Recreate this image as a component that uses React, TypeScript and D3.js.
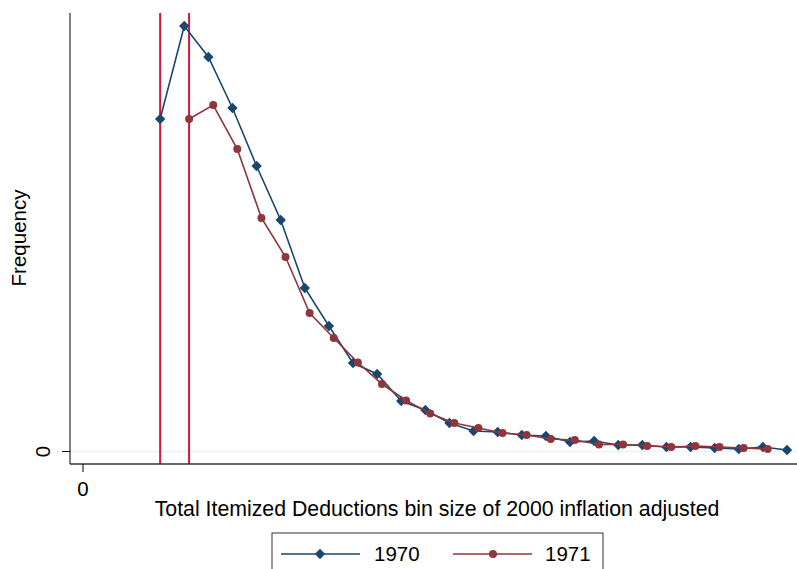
import React from "react";
import * as d3 from "d3";

const BIN = 2000;
const start1970 = 6400;
const start1971 = 8800;
const freq1970 = [3325, 4255, 3945, 3435, 2855, 2315, 1635, 1255, 885, 775, 505, 415, 285, 205, 195, 165, 155, 95, 105, 65, 65, 45, 45, 35, 25, 45, 15];
const freq1971 = [3325, 3465, 3025, 2335, 1945, 1385, 1135, 890, 675, 510, 380, 285, 235, 185, 165, 125, 115, 70, 70, 55, 45, 55, 45, 35, 25];
const thresholds = [6400, 8800];
const seriesNames = ["1970", "1971"];
const xTicks = [0];
const yTicks = [0];

const W = 797;
const H = 569;
const FONT = "Liberation Sans, Arial, Helvetica, sans-serif";
const FS = 20.5;
const FSX = 21.3;
const BLUE = "#1a476f";
const RED = "#90353b";
const VLINE = "#d0173f";

export default function App() {
  const plotL = 70, plotR = 797, plotT = 13, plotB = 464;
  const x = d3.scaleLinear().domain([0, 58400]).range([83, 787]);
  const y = d3.scaleLinear().domain([0, 4255]).range([451.5, 26]);

  const d70 = freq1970.map((v, i) => ({ x: start1970 + i * BIN, y: v }));
  const d71 = freq1971.map((v, i) => ({ x: start1971 + i * BIN, y: v }));
  const line = d3.line<{ x: number; y: number }>().x(d => x(d.x)).y(d => y(d.y));

  const diamond = (cx: number, cy: number, r: number) =>
    `M${cx},${cy - r}L${cx + r},${cy}L${cx},${cy + r}L${cx - r},${cy}Z`;

  return (
    <svg width={W} height={H} style={{ position: "absolute", left: 0, top: 0, background: "#fff" }}>
      <rect x={0} y={0} width={W} height={H} fill="#fff" />
      {yTicks.map(t => (
        <line key={"g" + t} x1={plotL} x2={plotR} y1={y(t)} y2={y(t)} stroke="#eaf2f3" strokeWidth={1.5} />
      ))}
      {thresholds.map(t => (
        <line key={"v" + t} x1={x(t)} x2={x(t)} y1={plotT} y2={plotB} stroke={VLINE} strokeWidth={2} />
      ))}
      <path d={line(d70) || ""} fill="none" stroke={BLUE} strokeWidth={1.6} />
      {d70.map((d, i) => (
        <path key={"a" + i} d={diamond(x(d.x), y(d.y), 5.2)} fill={BLUE} />
      ))}
      <path d={line(d71) || ""} fill="none" stroke={RED} strokeWidth={1.6} />
      {d71.map((d, i) => (
        <circle key={"b" + i} cx={x(d.x)} cy={y(d.y)} r={4} fill={RED} />
      ))}
      <line x1={plotL} x2={plotL} y1={plotT} y2={plotB} stroke="#000" strokeWidth={1} />
      <line x1={plotL} x2={plotR} y1={plotB} y2={plotB} stroke="#333" strokeWidth={1.5} />
      {yTicks.map(t => (
        <g key={"yt" + t}>
          <line x1={plotL - 8} x2={plotL} y1={y(t)} y2={y(t)} stroke="#000" />
          <text transform={`translate(50,${y(t)}) rotate(-90)`} textAnchor="middle" fontFamily={FONT} fontSize={FS}>{t}</text>
        </g>
      ))}
      {xTicks.map(t => (
        <g key={"xt" + t}>
          <line x1={x(t)} x2={x(t)} y1={plotB} y2={plotB + 8} stroke="#000" />
          <text x={x(t)} y={496} textAnchor="middle" fontFamily={FONT} fontSize={FS}>{t}</text>
        </g>
      ))}
      <text transform={`translate(26,238) rotate(-90)`} textAnchor="middle" fontFamily={FONT} fontSize={FS}>Frequency</text>
      <text x={437} y={516} textAnchor="middle" fontFamily={FONT} fontSize={FSX}>Total Itemized Deductions bin size of 2000 inflation adjusted</text>
      <rect x={272} y={533} width={331} height={50} fill="#fff" stroke="#333" strokeWidth={1} />
      <line x1={281} x2={360} y1={554} y2={554} stroke={BLUE} strokeWidth={1.6} />
      <path d={diamond(320, 554, 5.2)} fill={BLUE} />
      <text x={374} y={561} fontFamily={FONT} fontSize={FS}>{seriesNames[0]}</text>
      <line x1={453} x2={532} y1={554} y2={554} stroke={RED} strokeWidth={1.6} />
      <circle cx={493} cy={554} r={4} fill={RED} />
      <text x={545} y={561} fontFamily={FONT} fontSize={FS}>{seriesNames[1]}</text>
    </svg>
  );
}
